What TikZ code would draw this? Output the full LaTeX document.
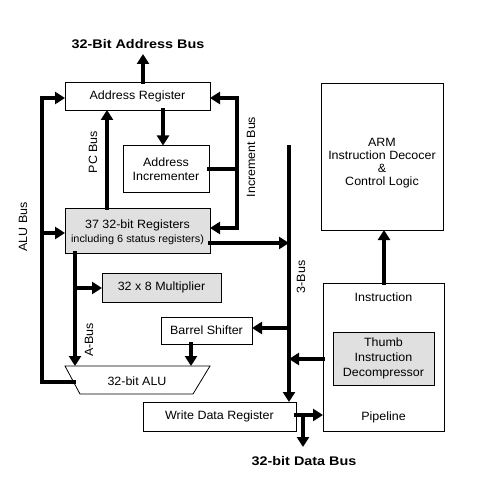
\documentclass[tikz,border=0pt]{standalone}
\usepackage{fontspec}
\setmainfont{Liberation Sans}[FakeStretch=1.04]
\newfontfamily\titlefont{Liberation Sans}[FakeStretch=1.15]
\usetikzlibrary{arrows.meta}
\definecolor{boxgray}{RGB}{224,224,224}
\tikzset{
  lbl/.style={font=\fontsize{12}{13.5}\selectfont, inner sep=0pt, align=center},
  titlelbl/.style={font=\titlefont\bfseries\fontsize{12.5}{14}\selectfont, inner sep=0pt},
  box/.style={draw, line width=0.8pt, inner sep=0pt, outer sep=0pt, align=center, font=\fontsize{12}{14.5}\selectfont},
  gbox/.style={box, fill=boxgray},
  bus/.style={line width=4pt, line cap=rect},
  arr/.style={bus, -{Triangle[width=12pt,length=10pt]}},
}
\begin{document}
\begin{tikzpicture}[x=1pt,y=-1pt]
\fill[white] (0,0) rectangle (500,494);
\useasboundingbox (0,0) rectangle (500,494);

% boxes
\node[box, minimum width=145pt, minimum height=28pt] (ar) at (137.5,96) {Address Register};
\node[box, minimum width=86pt, minimum height=47pt] (inc) at (166,169) {Address\\Incrementer};
\node[gbox, minimum width=145pt, minimum height=45pt] (reg) at (137.5,230.5) {};
\node[lbl] (regt) at (137.5,232) {37 32-bit Registers\\{\fontsize{10.5}{13}\selectfont including 6 status registers)}};
\node[gbox, minimum width=119pt, minimum height=29pt] (mul) at (161.5,287.5) {32 x 8 Multiplier};
\node[box, minimum width=91pt, minimum height=27pt] (bsh) at (206.5,330.5) {Barrel Shifter};
\node[box, minimum width=153pt, minimum height=29pt] (wdr) at (219.5,416.5) {Write Data Register};
\node[box, minimum width=122pt, minimum height=147pt] (arm) at (382,156.5) {};
\node[lbl, font=\fontsize{12}{12.8}\selectfont] (armt) at (382,163) {ARM\\Instruction Decocer\\\&\\Control Logic};
\node[box, minimum width=121pt, minimum height=148pt] (pipe) at (383.5,357) {};
\node[lbl] (pipet) at (383.5,297) {Instruction};
\node[lbl] (pipeb) at (383.5,417) {Pipeline};
\node[gbox, minimum width=101pt, minimum height=53pt, font=\fontsize{12}{15}\selectfont] (thumb) at (383.5,358.5) {Thumb\\Instruction\\Decompressor};

% ALU
\draw[line width=0.8pt] (65,366) -- (210,366) -- (193,394) -- (80,394) -- cycle;
\node[lbl] (alu) at (137,381) {32-bit ALU};

% labels
\node[titlelbl] (abl) at (138,44) {32-Bit Address Bus};
\node[titlelbl] (dbl) at (304,461) {32-bit Data Bus};
\node[lbl, rotate=90] (pcl) at (93,152) {PC Bus};
\node[lbl, rotate=90] (ibl) at (251,157) {Increment Bus};
\node[lbl, rotate=90] (alul) at (23,227) {ALU Bus};
\node[lbl, rotate=90] (abusl) at (89,340) {A-Bus};
\node[lbl, rotate=90] (bbusl) at (301,277) {3-Bus};

% helper coordinates
\coordinate (abus) at (143,54);
\coordinate (x163) at (163,0);
\coordinate (xpc) at (107,0);
\coordinate (ib1) at (237,98);
\coordinate (ib2) at (237,228);
\coordinate (aluw) at (73.5,382);
\coordinate (ab1) at (42,98);
\coordinate (ab2) at (42,233);
\coordinate (bbt) at (289,147);
\coordinate (bbr) at (289,243);
\coordinate (bs) at (289,328);
\coordinate (x191) at (191,366);
\coordinate (abt) at (75,366);
\coordinate (am) at (75,288);
\coordinate (pb) at (289,359);
\coordinate (wd) at (303,415);
\coordinate (db) at (303,447);
\coordinate (xp) at (384,0);

% connectors
\draw[arr] (ar.north -| abus) -- (abus);
\draw[arr] (ar.south -| x163) -- (inc.north -| x163);
\draw[arr] (reg.north -| xpc) -- (ar.south -| xpc);
\draw[bus] (inc.east) -- (inc.east -| ib1);
\draw[arr] (ib2) -- (ib1) -- (ib1 -| ar.east);
\draw[arr] (ib2) -- (ib2 -| reg.east);
\draw[arr] (aluw) -- (aluw -| ab1) -- (ab1) -- (ab1 -| ar.west);
\draw[arr] (ab2) -- (ab2 -| reg.west);
\draw[arr] (bbr -| reg.east) -- (bbr);
\draw[arr] (bbt) -- (bbt |- wdr.north);
\draw[arr] (bs) -- (bs -| bsh.east);
\draw[arr] (bsh.south -| x191) -- (x191);
\draw[arr] (reg.south -| abt) -- (abt);
\draw[arr] (am) -- (am -| mul.west);
\draw[arr] (pb -| pipe.west) -- (pb);
\draw[arr] (wd -| wdr.east) -- (wd -| pipe.west);
\draw[arr] (wd) -- (db);
\draw[arr] (pipe.north -| xp) -- (arm.south -| xp);
\end{tikzpicture}
\end{document}
